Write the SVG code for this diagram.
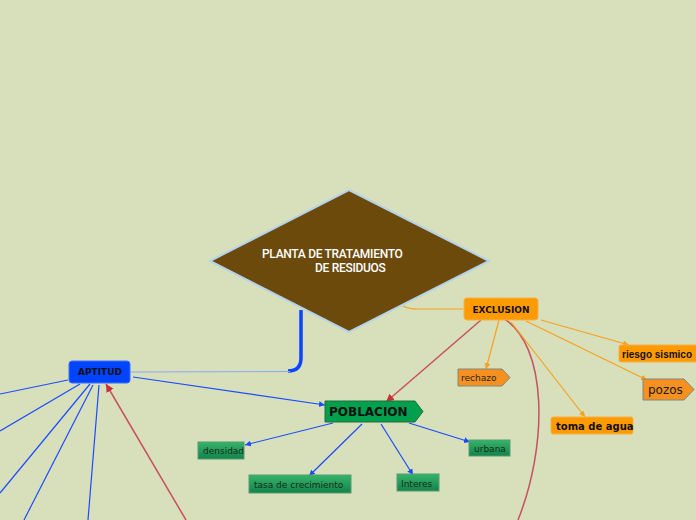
<svg xmlns="http://www.w3.org/2000/svg" width="696" height="520" viewBox="0 0 696 520">
<defs>
<style>
.bl{stroke:#1a4cff;stroke-width:1.2;fill:none}
.or{stroke:#f6a21e;stroke-width:1.2;fill:none}
.rd{stroke:#c85060;stroke-width:1.5;fill:none}
.t9{font-family:"DejaVu Sans",sans-serif;font-size:9px;fill:#1a2a1a}
.tb{font-family:"DejaVu Sans",sans-serif;font-weight:bold;fill:#111}
.gbox{fill:url(#g);stroke:#5a9a78;stroke-width:1}
.obox{fill:#ff9a00;stroke:#f5b04a;stroke-width:1}
.opent{fill:#f7901e;stroke:#7a8a80;stroke-width:1}
</style>
<linearGradient id="g" x1="0" y1="0" x2="0" y2="1">
<stop offset="0" stop-color="#36b46a"/>
<stop offset="1" stop-color="#12834a"/>
</linearGradient>
<marker id="ab" markerWidth="8" markerHeight="8" refX="6" refY="3" orient="auto" markerUnits="userSpaceOnUse"><path d="M0,0 L6,3 L0,6 z" fill="#1a4cff"/></marker>
<marker id="ao" markerWidth="8" markerHeight="8" refX="6" refY="3" orient="auto" markerUnits="userSpaceOnUse"><path d="M0,0 L6,3 L0,6 z" fill="#f6a21e"/></marker>
<marker id="ar" markerWidth="10" markerHeight="10" refX="8" refY="4" orient="auto" markerUnits="userSpaceOnUse"><path d="M0,0 L8,4 L0,8 z" fill="#c8303a"/></marker>
</defs>
<rect width="696" height="520" fill="#d8dfbb"/>
<g id="connectors">
<path d="M301 310 L301 358 Q301 371 288 371" stroke="#0a46ff" stroke-width="3.5" fill="none"/>
<path d="M290 371.5 L130 372" stroke="#8aaaf0" stroke-width="1" fill="none"/>
<path d="M403 306 Q408 309 418 309 L463 309" class="or"/>
<path d="M68 380 L0 394" class="bl"/>
<path d="M80 384 L0 431" class="bl"/>
<path d="M90 384 L0 493" class="bl"/>
<path d="M93 385 L24 520" class="bl"/>
<path d="M99 385 L88 520" class="bl"/>
<path d="M186 520 L106 384" class="rd" marker-end="url(#ar)"/>
<path d="M133 377 L325 405" class="bl" marker-end="url(#ab)"/>
<path d="M481 320 L386 402" class="rd" marker-end="url(#ar)"/>
<path d="M503 318 C548 345 548 445 518 520" class="rd"/>
<path d="M499 320 L486 369" class="or" marker-end="url(#ao)"/>
<path d="M541 320 L629 345" class="or" marker-end="url(#ao)"/>
<path d="M526 321 L647 380" class="or" marker-end="url(#ao)"/>
<path d="M511 322 L585 417" class="or" marker-end="url(#ao)"/>
<path d="M333 423 L245 445" class="bl" marker-end="url(#ab)"/>
<path d="M362 424 L309 476" class="bl" marker-end="url(#ab)"/>
<path d="M381 424 L413 475" class="bl" marker-end="url(#ab)"/>
<path d="M409 423 L470 442" class="bl" marker-end="url(#ab)"/>
</g>
<g id="planta">
<polygon points="349,190 489,261 349,332 210,261" fill="#6b4a0b" stroke="#b4d2ea" stroke-width="2"/>
<text x="262" y="258" font-family="Roboto,sans-serif" font-size="12" font-weight="500" fill="#fff" letter-spacing="-0.3">PLANTA DE TRATAMIENTO</text>
<text x="315" y="272" font-family="Roboto,sans-serif" font-size="12" font-weight="500" fill="#fff" letter-spacing="-0.3">DE RESIDUOS</text>
</g>
<g id="exclusion">
<rect x="464" y="298" width="74" height="22" rx="3" class="obox"/>
<text x="501" y="313" text-anchor="middle" class="tb" font-size="9">EXCLUSION</text>
</g>
<g id="aptitud">
<rect x="69" y="361" width="61" height="22" rx="3" fill="#0044ff" stroke="#3a70ff"/>
<text x="100" y="375" text-anchor="middle" class="tb" font-size="9">APTITUD</text>
</g>
<g id="poblacion">
<polygon points="325,401 415,401 423,411.5 415,422 325,422" fill="#00a04e" stroke="#2a6a3a" stroke-width="1"/>
<text x="329" y="416" class="tb" font-size="12">POBLACION</text>
</g>
<g id="densidad">
<rect x="198" y="442" width="46" height="17" class="gbox"/>
<text x="203" y="454" class="t9">densidad</text>
</g>
<g id="tasa">
<rect x="249" y="475" width="102" height="18" class="gbox"/>
<text x="254" y="488" class="t9">tasa de crecimiento</text>
</g>
<g id="interes">
<rect x="397" y="474" width="42" height="17" class="gbox"/>
<text x="401" y="487" class="t9">Interes</text>
</g>
<g id="urbana">
<rect x="469" y="440" width="41" height="16" class="gbox"/>
<text x="474" y="452" class="t9">urbana</text>
</g>
<g id="rechazo">
<polygon points="458,369 502,369 510,377.5 502,386 458,386" class="opent"/>
<text x="461" y="381" class="t9">rechazo</text>
</g>
<g id="riesgo">
<rect x="619" y="345" width="84" height="17" rx="2" class="obox"/>
<text x="622" y="358" font-family="'Liberation Sans',Arial,sans-serif" font-weight="bold" font-size="10" fill="#111">riesgo sismico</text>
</g>
<g id="pozos">
<polygon points="643,379 684,379 694,389.5 684,400 643,400" class="opent"/>
<text x="648" y="394" font-family="DejaVu Sans,sans-serif" font-size="12" fill="#1a1a1a">pozos</text>
</g>
<g id="toma">
<rect x="551" y="417" width="82" height="17" rx="2" class="obox"/>
<text x="556" y="430" class="tb" font-size="10">toma de agua</text>
</g>
</svg>
